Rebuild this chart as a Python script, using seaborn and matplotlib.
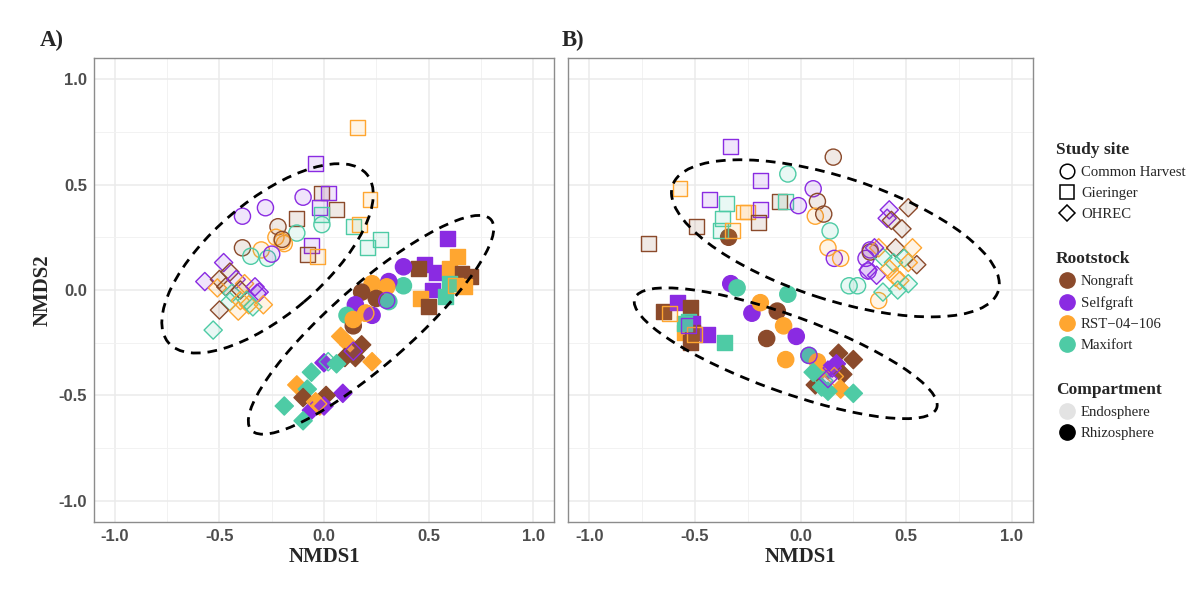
import matplotlib
matplotlib.use("Agg")
import matplotlib.pyplot as plt
from matplotlib.patches import Ellipse
from matplotlib.lines import Line2D
from matplotlib.font_manager import FontProperties
import pandas as pd
import seaborn as sns

# ---------------- data ----------------
SITES = ["Common Harvest", "Gieringer", "OHREC"]
ROOTSTOCKS = ["Nongraft", "Selfgraft", "RST\u221204\u2212106", "Maxifort"]
COMPARTMENTS = ["Endosphere", "Rhizosphere"]
SITE_CODE = {"C": SITES[0], "G": SITES[1], "O": SITES[2]}
ROOT_CODE = {"N": ROOTSTOCKS[0], "S": ROOTSTOCKS[1], "R": ROOTSTOCKS[2], "M": ROOTSTOCKS[3]}

# (NMDS1, NMDS2, site, rootstock)
A_endo = [
    (0.16, 0.77, "G", "R"), (-0.04, 0.60, "G", "S"), (-0.01, 0.46, "G", "N"), (0.02, 0.46, "G", "S"),
    (-0.02, 0.39, "G", "S"), (0.06, 0.38, "G", "N"), (0.22, 0.43, "G", "R"), (-0.13, 0.34, "G", "N"),
    (-0.01, 0.36, "G", "M"), (0.14, 0.30, "G", "M"), (0.17, 0.31, "G", "R"), (0.21, 0.20, "G", "M"),
    (0.27, 0.24, "G", "M"), (-0.06, 0.21, "G", "S"), (-0.08, 0.17, "G", "N"), (-0.03, 0.16, "G", "R"),
    (0.63, 0.02, "G", "R"),
    (-0.10, 0.44, "C", "S"), (-0.28, 0.39, "C", "S"), (-0.39, 0.35, "C", "S"), (-0.22, 0.30, "C", "N"),
    (-0.13, 0.27, "C", "M"), (-0.23, 0.25, "C", "R"), (-0.20, 0.23, "C", "R"), (-0.19, 0.22, "C", "R"),
    (-0.20, 0.24, "C", "N"), (-0.39, 0.20, "C", "N"), (-0.30, 0.19, "C", "R"), (-0.35, 0.16, "C", "M"),
    (-0.27, 0.15, "C", "M"), (-0.25, 0.17, "C", "S"), (-0.01, 0.31, "C", "M"), (0.30, -0.05, "C", "S"),
    (0.20, -0.11, "C", "R"),
    (-0.48, 0.13, "O", "S"), (-0.45, 0.085, "O", "N"), (-0.57, 0.04, "O", "S"), (-0.50, 0.05, "O", "N"),
    (-0.51, 0.01, "O", "R"), (-0.47, 0.015, "O", "N"), (-0.42, 0.05, "O", "S"), (-0.38, 0.03, "O", "R"),
    (-0.44, -0.015, "O", "M"), (-0.40, 0.0, "O", "N"), (-0.33, 0.015, "O", "S"), (-0.31, -0.01, "O", "S"),
    (-0.32, -0.015, "O", "S"), (-0.45, -0.055, "O", "M"), (-0.40, -0.05, "O", "R"), (-0.37, -0.05, "O", "M"),
    (-0.36, -0.07, "O", "R"), (-0.50, -0.095, "O", "N"), (-0.41, -0.10, "O", "R"), (-0.34, -0.08, "O", "M"),
    (-0.29, -0.07, "O", "R"), (-0.53, -0.19, "O", "M"), (0.14, -0.29, "O", "S"), (0.02, -0.34, "O", "M"),
    (-0.03, -0.54, "O", "R"),
]
A_rhizo = [
    (0.59, 0.245, "G", "S"), (0.64, 0.16, "G", "R"), (0.48, 0.12, "G", "S"), (0.45, 0.10, "G", "N"),
    (0.54, 0.085, "G", "S"), (0.60, 0.10, "G", "R"), (0.66, 0.08, "G", "N"), (0.70, 0.065, "G", "N"),
    (0.60, 0.03, "G", "M"), (0.67, 0.015, "G", "R"), (0.52, 0.0, "G", "S"), (0.58, -0.03, "G", "M"),
    (0.46, -0.04, "G", "R"), (0.50, -0.08, "G", "N"),
    (0.38, 0.11, "C", "S"), (0.38, 0.02, "C", "M"), (0.23, 0.03, "C", "R"), (0.31, 0.04, "C", "S"),
    (0.30, 0.015, "C", "R"), (0.18, -0.01, "C", "N"), (0.25, -0.04, "C", "N"), (0.31, -0.055, "C", "M"),
    (0.15, -0.07, "C", "S"), (0.11, -0.12, "C", "M"), (0.20, -0.11, "C", "R"), (0.23, -0.12, "C", "S"),
    (0.14, -0.17, "C", "N"), (0.14, -0.14, "C", "R"),
    (0.08, -0.22, "O", "R"), (0.12, -0.26, "O", "R"), (0.18, -0.26, "O", "N"), (0.15, -0.32, "O", "N"),
    (0.10, -0.32, "O", "N"), (0.23, -0.34, "O", "R"), (0.0, -0.345, "O", "S"), (0.06, -0.35, "O", "M"),
    (-0.06, -0.39, "O", "M"), (-0.13, -0.45, "O", "R"), (-0.08, -0.47, "O", "M"), (-0.10, -0.51, "O", "N"),
    (0.09, -0.49, "O", "S"), (0.01, -0.50, "O", "N"), (-0.04, -0.53, "O", "R"), (-0.06, -0.57, "O", "S"),
    (-0.02, -0.55, "O", "R"), (0.0, -0.55, "O", "S"), (-0.19, -0.55, "O", "M"), (-0.10, -0.62, "O", "M"),
]
B_endo = [
    (-0.33, 0.68, "G", "S"), (-0.57, 0.48, "G", "R"), (-0.72, 0.22, "G", "N"), (-0.49, 0.30, "G", "N"),
    (-0.43, 0.43, "G", "S"), (-0.35, 0.41, "G", "M"), (-0.37, 0.34, "G", "M"), (-0.38, 0.28, "G", "M"),
    (-0.32, 0.28, "G", "R"), (-0.27, 0.37, "G", "R"), (-0.25, 0.37, "G", "R"), (-0.19, 0.38, "G", "S"),
    (-0.20, 0.32, "G", "N"), (-0.19, 0.52, "G", "S"), (-0.10, 0.42, "G", "N"), (-0.07, 0.42, "G", "M"),
    (-0.62, -0.11, "G", "R"), (-0.50, -0.21, "G", "R"), (-0.53, -0.17, "G", "S"),
    (-0.06, 0.55, "C", "M"), (-0.01, 0.40, "C", "S"), (0.06, 0.48, "C", "S"), (0.155, 0.63, "C", "N"),
    (0.08, 0.42, "C", "N"), (0.07, 0.35, "C", "R"), (0.11, 0.36, "C", "N"), (0.14, 0.28, "C", "M"),
    (0.13, 0.20, "C", "R"), (0.16, 0.15, "C", "S"), (0.19, 0.15, "C", "R"), (0.23, 0.02, "C", "M"),
    (0.27, 0.02, "C", "M"), (0.37, -0.05, "C", "R"), (0.33, 0.19, "C", "S"), (0.31, 0.15, "C", "S"),
    (0.32, 0.09, "C", "S"), (0.33, 0.18, "C", "N"), (0.04, -0.31, "C", "S"),
    (0.42, 0.38, "O", "S"), (0.41, 0.34, "O", "S"), (0.43, 0.33, "O", "N"), (0.51, 0.39, "O", "N"),
    (0.48, 0.29, "O", "N"), (0.37, 0.20, "O", "R"), (0.45, 0.20, "O", "N"), (0.53, 0.20, "O", "R"),
    (0.39, 0.155, "O", "M"), (0.44, 0.13, "O", "M"), (0.49, 0.15, "O", "M"), (0.35, 0.20, "O", "S"),
    (0.32, 0.095, "O", "S"), (0.36, 0.07, "O", "S"), (0.55, 0.12, "O", "N"), (0.42, 0.10, "O", "R"),
    (0.51, 0.13, "O", "R"), (0.45, 0.06, "O", "R"), (0.47, 0.045, "O", "R"), (0.51, 0.03, "O", "M"),
    (0.46, 0.0, "O", "M"), (0.39, -0.01, "O", "M"),
    (0.16, -0.41, "O", "R"), (0.11, -0.43, "O", "M"), (0.13, -0.42, "O", "S"), (0.15, -0.37, "O", "S"),
]
B_rhizo = [
    (-0.65, -0.10, "G", "N"), (-0.58, -0.06, "G", "S"), (-0.52, -0.085, "G", "N"), (-0.53, -0.15, "G", "M"),
    (-0.51, -0.16, "G", "S"), (-0.55, -0.20, "G", "R"), (-0.51, -0.20, "G", "N"), (-0.52, -0.25, "G", "N"),
    (-0.44, -0.21, "G", "S"), (-0.36, -0.25, "G", "M"), (-0.55, -0.16, "G", "M"),
    (-0.34, 0.25, "C", "N"), (-0.23, -0.11, "C", "S"), (-0.19, -0.06, "C", "R"), (-0.11, -0.10, "C", "N"),
    (-0.06, -0.02, "C", "M"), (-0.08, -0.17, "C", "R"), (-0.02, -0.22, "C", "S"), (-0.16, -0.23, "C", "N"),
    (-0.07, -0.33, "C", "R"), (-0.33, 0.03, "C", "S"), (-0.30, 0.01, "C", "M"), (0.04, -0.31, "C", "M"),
    (0.08, -0.34, "C", "R"),
    (0.18, -0.30, "O", "N"), (0.25, -0.33, "O", "N"), (0.17, -0.35, "O", "S"), (0.13, -0.38, "O", "S"),
    (0.09, -0.39, "O", "R"), (0.20, -0.40, "O", "N"), (0.07, -0.45, "O", "N"), (0.10, -0.46, "O", "M"),
    (0.19, -0.47, "O", "R"), (0.13, -0.48, "O", "M"), (0.25, -0.49, "O", "M"), (0.06, -0.39, "O", "M"),
]

# ellipses: (centre x, centre y, semi-major, semi-minor, angle in degrees)
A_ellipses = [(-0.27, 0.15, 0.62, 0.27, 40), (0.225, -0.165, 0.76, 0.19, 41)]
B_ellipses = [(0.165, 0.245, 0.81, 0.29, -18), (-0.07, -0.30, 0.76, 0.18, -20)]

TICKS = [-1.0, -0.5, 0.0, 0.5, 1.0]
MINOR_TICKS = [-0.75, -0.25, 0.25, 0.75]
LIMITS = (-1.1, 1.1)

PALETTE = dict(zip(ROOTSTOCKS, ["#8B4A2B", "#8A2BE2", "#FFA630", "#4ECBA5"]))
MARKERS = dict(zip(SITES, ["o", "s", "D"]))
SIZES = dict(zip(SITES, [135, 115, 86]))

SERIF = "Liberation Serif"
SANS = "Liberation Sans"


def make_frame(endo, rhizo):
    rows = []
    for comp, pts in (("Endosphere", endo), ("Rhizosphere", rhizo)):
        for x, y, s, r in pts:
            rows.append({"NMDS1": x, "NMDS2": y, "site": SITE_CODE[s],
                         "rootstock": ROOT_CODE[r], "compartment": comp})
    return pd.DataFrame(rows)


def draw_panel(ax, df, ellipses, show_ylab):
    # rhizosphere first, open endosphere markers land on top (as in the original)
    for comp in ["Rhizosphere", "Endosphere"]:
        sub = df[df.compartment == comp]
        sns.scatterplot(data=sub, x="NMDS1", y="NMDS2", hue="rootstock", style="site", size="site",
                        hue_order=ROOTSTOCKS, style_order=SITES, size_order=SITES,
                        palette=PALETTE, markers=MARKERS, sizes=SIZES, legend=False,
                        linewidth=1.0, ax=ax, zorder=3)
        coll = ax.collections[-1]
        fc = coll.get_facecolors().copy()
        coll.set_edgecolors(fc.copy())
        if comp == "Endosphere":
            fc[:, 3] = 0.12
            coll.set_facecolors(fc)

    for cx, cy, a, b, ang in ellipses:
        ax.add_patch(Ellipse((cx, cy), 2 * a, 2 * b, angle=ang, fill=False, color="black",
                             lw=2.0, ls=(0, (3.5, 2.5)), zorder=4))

    ax.set_xlim(LIMITS)
    ax.set_ylim(LIMITS)
    ax.set_xticks(TICKS)
    ax.set_yticks(TICKS)
    ax.set_xticks(MINOR_TICKS, minor=True)
    ax.set_yticks(MINOR_TICKS, minor=True)
    ax.set_xticklabels([f"{t:.1f}" for t in TICKS])
    ax.set_yticklabels([f"{t:.1f}" for t in TICKS])
    ax.grid(True, which="major", color="#ebebeb", lw=1.1, zorder=0)
    ax.grid(True, which="minor", color="#f2f2f2", lw=0.7, zorder=0)
    ax.set_axisbelow(True)
    ax.tick_params(which="major", length=3, width=0.8, color="#333333", labelcolor="#4d4d4d",
                   labelsize=12, pad=2)
    ax.tick_params(which="minor", length=0)
    for lab in ax.get_xticklabels() + ax.get_yticklabels():
        lab.set_fontfamily(SANS)
        lab.set_fontweight("bold")
    for sp in ax.spines.values():
        sp.set_color("#8c8c8c")
        sp.set_linewidth(1.0)
    ax.set_xlabel("NMDS1", family=SERIF, weight="bold", fontsize=15, labelpad=2)
    if show_ylab:
        ax.set_ylabel("NMDS2", family=SERIF, weight="bold", fontsize=15, labelpad=4)
    else:
        ax.set_ylabel("")
        ax.tick_params(labelleft=False)


sns.set_style("white")
plt.rcParams["font.family"] = [SERIF, "DejaVu Sans"]
plt.rcParams["axes.unicode_minus"] = False

fig = plt.figure(figsize=(12, 5.91), dpi=100)
axA = fig.add_axes([94 / 1200, 69 / 591, 460 / 1200, 464 / 591])
axB = fig.add_axes([568 / 1200, 69 / 591, 465 / 1200, 464 / 591])

draw_panel(axA, make_frame(A_endo, A_rhizo), A_ellipses, True)
draw_panel(axB, make_frame(B_endo, B_rhizo), B_ellipses, False)

fig.text(40 / 1200, 1 - 40 / 591, "A)", family=SERIF, weight="bold", fontsize=16.5, va="center")
fig.text(562 / 1200, 1 - 40 / 591, "B)", family=SERIF, weight="bold", fontsize=16.5, va="center")

# legends
item_font = FontProperties(family=SERIF, size=10.6)
title_font = FontProperties(family=SERIF, weight="bold", size=12.5)
common = dict(loc="upper left", frameon=False, prop=item_font, title_fontproperties=title_font,
              alignment="left", handletextpad=0.2, labelspacing=0.52, handlelength=1.5,
              borderpad=0, borderaxespad=0)

site_h = [Line2D([], [], ls="", marker=MARKERS[s], ms=ms, mfc="none", mec="black", mew=1.1)
          for s, ms in zip(SITES, [10.5, 9.5, 8.5])]
root_h = [Line2D([], [], ls="", marker="o", ms=11, mfc=PALETTE[r], mec=PALETTE[r]) for r in ROOTSTOCKS]
comp_h = [Line2D([], [], ls="", marker="o", ms=11, mfc=c, mec=c) for c in ["#e3e3e3", "black"]]

LEG_X = 1056 / 1200
fig.legend(handles=site_h, labels=SITES, title="Study site",
           bbox_to_anchor=(LEG_X, 1 - 142 / 591), **common)
fig.legend(handles=root_h, labels=ROOTSTOCKS, title="Rootstock",
           bbox_to_anchor=(LEG_X, 1 - 251 / 591), **common)
fig.legend(handles=comp_h, labels=COMPARTMENTS, title="Compartment",
           bbox_to_anchor=(LEG_X, 1 - 382 / 591), **common)

fig.savefig("out.png", dpi=100, facecolor="white")
